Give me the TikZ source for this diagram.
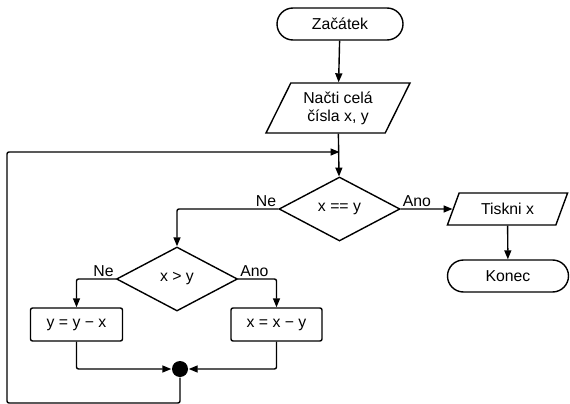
\documentclass[tikz,border=0pt]{standalone}
\usepackage{fontspec}
\setmainfont{Liberation Sans}
\usetikzlibrary{shapes.geometric,arrows.meta}

\tikzset{
  term/.style={draw,rounded corners=16pt,minimum width=126pt,minimum height=32pt,inner sep=0pt},
  io/.style={draw,trapezium,trapezium left angle=61,trapezium right angle=119,trapezium stretches=true,inner sep=0pt,align=center},
  decide/.style={draw,diamond,aspect=1.9,minimum width=121pt,minimum height=64pt,inner sep=0pt},
  proc/.style={draw,rounded corners=2pt,minimum width=92pt,minimum height=33pt,inner sep=0pt},
  flow/.style={-{Triangle[length=9pt,width=7pt]},rounded corners=2pt},
  lbl/.style={inner sep=1.5pt}
}

\begin{document}
\begin{tikzpicture}[x=1pt,y=-1pt,line width=1.4pt,font=\fontsize{15.8pt}{18pt}\selectfont]
    \useasboundingbox (0,0) rectangle (570,404);
    % nodes
    \node[term] (start) at (340,24) {Začátek};
    \node[io,minimum width=144pt,minimum height=50pt] (read) at (338,108) {Načti celá\\čísla x, y};
    \node[decide] (eq) at (339.5,209) {x == y};
    \node[io,minimum width=121pt,minimum height=32pt] (print) at (507.5,209) {Tiskni x};
    \node[term,minimum width=121pt] (stop) at (508,276) {Konec};
    \node[decide] (gt) at (177,279) {x > y};
    \node[proc] (suby) at (76.5,324.5) {y = y − x};
    \node[proc,minimum width=91pt] (subx) at (276.5,324.5) {x = x − y};
    \node[circle,fill=black,minimum size=16pt,inner sep=0pt] (join) at (180,369) {};
    \coordinate (back) at (339.5,152);
    % connectors
    \draw[flow] (start) -- (read);
    \draw[flow] (read) -- (eq);
    \draw[flow] (eq.west) node[lbl,above left] {Ne} -| (gt.north);
    \draw[flow] (eq.east) node[lbl,above right] {Ano} -- (print.west);
    \draw[flow] (print) -- (stop);
    \draw[flow] (gt.west) node[lbl,above left] {Ne} -| (suby.north);
    \draw[flow] (gt.east) node[lbl,above right] {Ano} -| (subx.north);
    \draw[flow] (suby.south) |- (join.west);
    \draw[flow] (subx.south) |- (join.east);
    \draw[flow] (join.south) -- (180,403) -| (7,152) -- (back);
\end{tikzpicture}
\end{document}
